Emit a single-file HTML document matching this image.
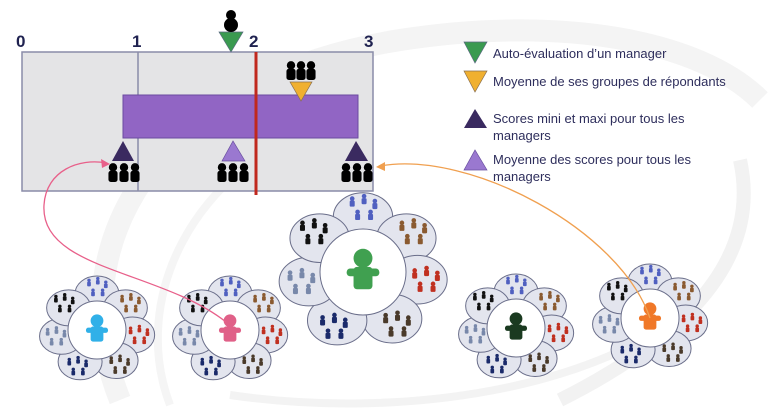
<!DOCTYPE html>
<html><head><meta charset="utf-8"><style>
html,body{margin:0;padding:0;background:#fff;}
svg{display:block;}
text{font-family:"Liberation Sans",sans-serif;}
</style></head><body>
<svg id="s" width="782" height="408" viewBox="0 0 782 408" xmlns="http://www.w3.org/2000/svg">
<rect width="782" height="408" fill="#fff"/>
<!-- faint swooshes -->
<path d="M120 400 C 60 250 150 80 400 40 C 560 15 700 40 760 100" fill="none" stroke="#f4f4f4" stroke-width="22"/>
<path d="M170 405 C 130 300 190 170 330 120" fill="none" stroke="#f5f5f5" stroke-width="8"/>
<path d="M560 400 C 700 330 760 250 740 160" fill="none" stroke="#f2f2f2" stroke-width="14"/>
<path d="M230 395 C 400 420 600 390 700 300" fill="none" stroke="#f3f3f3" stroke-width="8"/>

<!-- chart -->
<rect x="22" y="52" width="351" height="139" fill="#e4e4e6" stroke="#8a8ca8" stroke-width="1.5"/>
<line x1="138" y1="52" x2="138" y2="191" stroke="#8a8ca8" stroke-width="1.5"/>
<rect x="123" y="95" width="235" height="43" fill="#9165c4" stroke="#6a4aa0" stroke-width="1"/>
<line x1="256" y1="52" x2="256" y2="195" stroke="#c0281e" stroke-width="3"/>
<g font-size="17" font-weight="bold" fill="#1f2250">
<text x="16" y="47">0</text><text x="132" y="47">1</text><text x="249" y="47">2</text><text x="364" y="47">3</text>
</g>
<!-- green -->
<polygon points="219,32 243,32 231,52" fill="#3a9a50" stroke="#5a6a80" stroke-width="0.7"/>
<g fill="#000"><circle cx="231" cy="15" r="5"/><ellipse cx="231" cy="25" rx="7" ry="7"/></g>
<!-- yellow -->
<polygon points="290,82 312,82 301,101" fill="#f0b030" stroke="#8a7050" stroke-width="0.7"/>
<g id="grp1" fill="#000"></g>
<!-- bottom triangles -->
<polygon points="112,161 134,161 123,141" fill="#3a2a60"/>
<polygon points="222,161 245,161 233,141" fill="#9a78d0" stroke="#6a50a0" stroke-width="0.7"/>
<polygon points="345,161 368,161 356,141" fill="#3a2a60"/>

<!-- legend -->
<polygon points="464,42 487,42 475,63" fill="#3a9a50" stroke="#5a6a80" stroke-width="0.7"/>
<polygon points="464,71 487,71 475,92" fill="#f0b030" stroke="#8a7050" stroke-width="0.7"/>
<polygon points="464,128 487,128 475,109" fill="#3a2a60"/>
<polygon points="464,170 487,170 475,150" fill="#9a78d0" stroke="#6a50a0" stroke-width="0.7"/>
<g font-size="13" fill="#2e2e5c">
<text x="493" y="58">Auto-évaluation d’un manager</text>
<text x="493" y="86">Moyenne de ses groupes de répondants</text>
<text x="493" y="123">Scores mini et maxi pour tous les</text>
<text x="493" y="140">managers</text>
<text x="493" y="164">Moyenne des scores pour tous les</text>
<text x="493" y="181">managers</text>
</g>
<g id="flowers"></g>
<!-- connectors -->
<path d="M226 322 C 160 270 40 270 44 205 C 46 170 80 158 106 163" fill="none" stroke="#e8608a" stroke-width="1.3"/>
<polygon points="110,164 101,159 102,168" fill="#e8608a"/>
<path d="M650 318 C 620 230 470 150 380 166" fill="none" stroke="#f0a050" stroke-width="1.3"/>
<polygon points="376,167 385,162 385,171" fill="#f0a050"/>
</svg>
<script>
var NS="http://www.w3.org/2000/svg";
function el(p,t,a){var e=document.createElementNS(NS,t);for(var k in a)e.setAttribute(k,a[k]);p.appendChild(e);return e;}
function person(g,x,y,s,c){el(g,"circle",{cx:x,cy:y-s*1.1,r:s*0.6,fill:c});el(g,"rect",{x:x-s*0.65,y:y-s*0.6,width:s*1.3,height:s*1.6,rx:s*0.35,fill:c});}
var g1=document.getElementById("grp1");
[[291,73],[301,73],[311,73]].forEach(function(p){person(g1,p[0],p[1],7,"#000");});
[[113,175],[124,175],[135,175],[222,175],[233,175],[244,175],[346,175],[357,175],[368,175]].forEach(function(p){person(g1,p[0],p[1],7,"#000");});
var F=document.getElementById("flowers");
var cols=["#5060c0","#8a5a30","#c03020","#4a3a2a","#1a2a6a","#7888aa","#111"];
var angs=[-90,-38,8,58,118,170,-142];
function flower(cx,cy,R,d,pr,fig){
 var g=el(F,"g",{});
 angs.forEach(function(a,i){var r=a*Math.PI/180;var px=cx+d*Math.cos(r),py=cy+d*Math.sin(r);
  el(g,"ellipse",{cx:px,cy:py,rx:pr*1.1,ry:pr*0.9,fill:"#e3e5ee",stroke:"#6a6e8a","stroke-width":1});});
 angs.forEach(function(a,i){var r=a*Math.PI/180;var px=cx+(d+pr*0.3)*Math.cos(r),py=cy+(d+pr*0.3)*Math.sin(r);var s=pr/7;
  [[-1,-0.5],[0.1,-0.7],[1.1,-0.3],[-0.5,0.6],[0.7,0.6]].forEach(function(o){person(g,px+o[0]*pr*0.4,py+o[1]*pr*0.45,s,cols[i]);});});
 el(g,"circle",{cx:cx,cy:cy,r:R,fill:"#fff",stroke:"#6a6e8a","stroke-width":1});
 var s=R/5; el(g,"circle",{cx:cx,cy:cy-s*1.6,r:s*1.1,fill:fig});
 el(g,"rect",{x:cx-s*1.1,y:cy-s*0.6,width:s*2.2,height:s*2.6,rx:s*0.4,fill:fig});
 el(g,"rect",{x:cx-s*1.9,y:cy-s*0.4,width:s*3.8,height:s*0.9,rx:s*0.4,fill:fig});
}
flower(97,330,29,36,20,"#30b0e8");
flower(230,330,29,36,20,"#e06088");
flower(363,272,43,55,27,"#40a050");
flower(516,328,29,36,20,"#1a3a20");
flower(650,318,29,36,20,"#f07828");
</script>
</body></html>
